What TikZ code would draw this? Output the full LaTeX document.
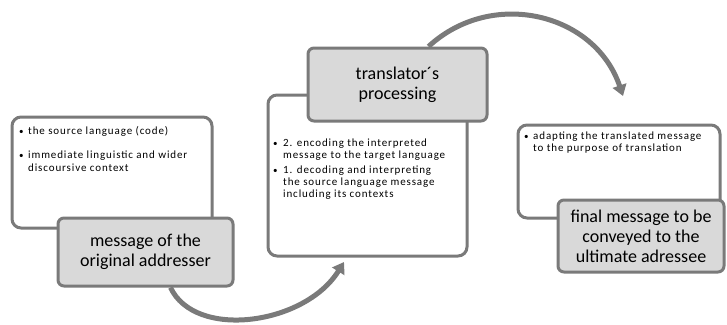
\documentclass[tikz,border=0pt]{standalone}
\usepackage{fontspec}
\setmainfont{Carlito}
\newfontfamily\bulfont[LetterSpace=8]{Carlito}
\usetikzlibrary{arrows.meta,calc,backgrounds}
\definecolor{edge}{HTML}{7A7A7A}
\definecolor{lab}{HTML}{D9D9D9}
\begin{document}
\begin{tikzpicture}[x=1pt,y=-1pt,
  panel/.style={draw=edge, line width=3pt, rounded corners=9pt, fill=white, inner sep=0pt},
  labelbox/.style={draw=edge, line width=3pt, rounded corners=6pt, fill=lab, align=center,
    font=\fontsize{18}{20}\selectfont, inner sep=0pt},
  bl/.style={anchor=base west, inner sep=0pt, font=\bulfont\fontsize{11}{13}\selectfont},
  dot/.style={anchor=base west, inner sep=0pt, font=\fontsize{9}{10}\selectfont},
  flow/.style={draw=edge, line width=5pt, -{Triangle[width=14pt,length=11pt]}}
]
\useasboundingbox (0,0) rectangle (727,324);

% panels
\node[panel, minimum width=200pt, minimum height=111pt] (p1) at (112,172.5) {};
\node[panel, minimum width=199pt, minimum height=161pt] (p2) at (367.5,175.5) {};
\node[panel, minimum width=202pt, minimum height=93pt] (p3) at (619,171.5) {};

% labels
\node[labelbox, minimum width=175pt, minimum height=68pt] (l1) at (145.5,252) {message of the\\original addresser};
\node[labelbox, minimum width=179pt, minimum height=73pt] (l2) at (397.5,84.5) {translator´s\\processing};
\node[labelbox, minimum width=166pt, minimum height=72pt] (l3) at (641,236) {final message to be\\conveyed to the\\ultimate adressee};

% bullet texts, panel 1
\node[dot] (b11) at (19,134) {•};
\node[bl] (t11) at (28,134) {the source language (code)};
\node[dot] (b12) at (19,158) {•};
\node[bl] (t12) at (28,158) {immediate linguistic and wider};
\node[bl] (t13) at (28,171) {discoursive context};

% panel 2
\node[dot] (b21) at (273,146) {•};
\node[bl] (t21) at (283,146) {2. encoding the interpreted};
\node[bl] (t22) at (283,158) {message to the target language};
\node[dot] (b22) at (273,173) {•};
\node[bl] (t23) at (283,173) {1. decoding and interpreting};
\node[bl] (t24) at (283,185) {the source language message};
\node[bl] (t25) at (283,197) {including its contexts};

% panel 3
\node[dot] (b31) at (524,139) {•};
\node[bl] (t31) at (533,139) {adapting the translated message};
\node[bl] (t32) at (533,151) {to the purpose of translation};

% connectors
\coordinate (a1s) at ($(l1.south west)+(114,0)$);
\coordinate (a1e) at (344,262);
\coordinate (a2s) at ($(l2.north west)+(122,0)$);
\coordinate (a2e) at (623,96);
\begin{scope}[on background layer]
\draw[flow] (a1s) .. controls (195,340) and (305,325) .. (a1e);
\draw[flow] (a2s) .. controls (492,-12) and (595,13) .. (a2e);
\end{scope}
\end{tikzpicture}
\end{document}
